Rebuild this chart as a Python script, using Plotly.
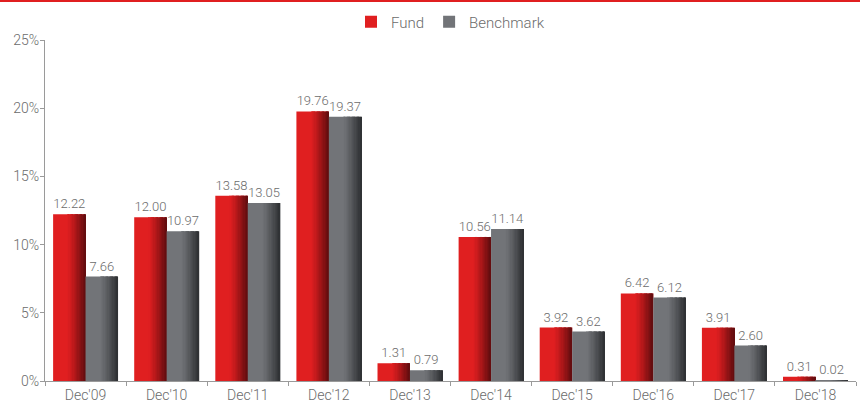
import plotly.graph_objects as go

categories = ["Dec'09", "Dec'10", "Dec'11", "Dec'12", "Dec'13", "Dec'14", "Dec'15", "Dec'16", "Dec'17", "Dec'18"]
fund = [12.22, 12.00, 13.58, 19.76, 1.31, 10.56, 3.92, 6.42, 3.91, 0.31]
benchmark = [7.66, 10.97, 13.05, 19.37, 0.79, 11.14, 3.62, 6.12, 2.60, 0.02]
y_ticks = [0, 5, 10, 15, 20, 25]
y_tick_labels = ["0%", "5%", "10%", "15%", "20%", "25%"]

FONT = "Roboto, Liberation Sans Narrow, sans-serif"
TXT = "#6b6b6b"
W = 0.40  # bar width in category units

fig = go.Figure()


def lerp(c1, c2, t):
    return "rgb(%d,%d,%d)" % tuple(int(round(a + (b - a) * t)) for a, b in zip(c1, c2))


def add_series(name, vals, base_rgb, dark_rgb, offset, legend_color):
    fig.add_trace(go.Bar(
        x=categories, y=vals, name=name, width=W, offset=offset,
        marker=dict(color=legend_color, line=dict(width=0)),
        text=["%.2f" % v for v in vals], textposition="outside",
        textfont=dict(family=FONT, size=13, color=TXT, weight=300),
        cliponaxis=False, hoverinfo="skip",
    ))
    n = 14
    start = 0.45
    sw = W * (1 - start) / n
    for i in range(n):
        t = (i + 0.5) / n
        col = lerp(base_rgb, dark_rgb, t ** 1.2)
        fig.add_trace(go.Bar(
            x=categories, y=vals, width=sw * 1.05,
            offset=offset + W * start + i * sw,
            marker=dict(color=col, line=dict(width=0)),
            showlegend=False, hoverinfo="skip",
        ))


add_series("Fund", fund, (224, 30, 32), (95, 12, 14), -W, "#e01f20")
add_series("Benchmark", benchmark, (114, 116, 120), (45, 47, 50), 0.0, "#727478")

fig.update_layout(
    width=860, height=403,
    barmode="overlay",
    plot_bgcolor="white", paper_bgcolor="white",
    margin=dict(l=45, r=4, t=40, b=22, autoexpand=False),
    font=dict(family=FONT, color=TXT, size=14, weight=300),
    legend=dict(orientation="h", x=0.5, xanchor="center", y=1 - 22 / 403, yanchor="middle",
                yref="container", font=dict(family=FONT, size=15, color=TXT, weight=300)),
    xaxis=dict(
        type="category", range=[-0.5, 9.5], showgrid=False,
        showline=True, linecolor="#9a9a9a", linewidth=1,
        ticks="outside", tickson="boundaries", ticklen=4, tickcolor="#9a9a9a",
        tickfont=dict(family=FONT, size=14, color=TXT, weight=300), automargin=False,
        ticklabelstandoff=1,
    ),
    yaxis=dict(
        range=[0, 25], tickmode="array", tickvals=y_ticks, ticktext=y_tick_labels,
        showgrid=False, zeroline=False,
        showline=True, linecolor="#9a9a9a", linewidth=1,
        ticks="outside", ticklen=4, tickcolor="#9a9a9a",
        tickfont=dict(family=FONT, size=14, color=TXT, weight=300), automargin=False,
        ticklabelstandoff=-2,
    ),
    shapes=[dict(type="line", xref="paper", yref="paper", x0=-45 / 811, x1=1 + 4 / 811,
                 y0=1 + 39 / 341, y1=1 + 39 / 341,
                 line=dict(color="#e01f20", width=2))],
)

fig.write_html("out.html", config={"displayModeBar": False},
               post_script="document.body.style.margin='0';document.body.style.overflow='hidden';")
